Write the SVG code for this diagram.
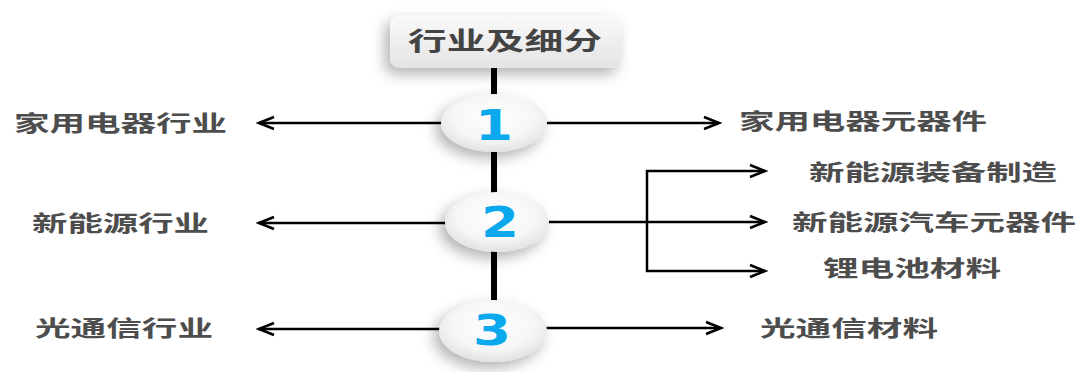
<svg xmlns="http://www.w3.org/2000/svg" width="1078" height="372" viewBox="0 0 1078 372">
<style>
.lbl{font-family:"Noto Sans CJK SC","Noto Sans",sans-serif;font-weight:bold;font-size:22px;fill:#4d4d4d}
.ttl{font-family:"Noto Sans CJK SC","Noto Sans",sans-serif;font-weight:bold;font-size:25px;fill:#444}
.num{font-family:"DejaVu Sans",sans-serif;font-weight:bold;font-size:42px;fill:#0aa8ec;text-anchor:middle}
.ln{stroke:#000;stroke-width:2.5;fill:none}
.oval{fill:url(#og);filter:url(#sh)}
</style>
<defs>
<marker id="ah" markerUnits="userSpaceOnUse" markerWidth="20" markerHeight="16" refX="17" refY="8" orient="auto-start-reverse">
<path d="M2,2 L17,8 L2,14" fill="none" stroke="#000" stroke-width="2.5"/>
</marker>
<radialGradient id="og" cx="0.5" cy="0.4" r="0.6">
<stop offset="0" stop-color="#ffffff"/>
<stop offset="0.65" stop-color="#f6f6f6"/>
<stop offset="1" stop-color="#e2e2e2"/>
</radialGradient>
<linearGradient id="tg" x1="0" y1="0" x2="0" y2="1">
<stop offset="0" stop-color="#fafafa"/>
<stop offset="1" stop-color="#e4e4e4"/>
</linearGradient>
<filter id="sh" x="-40%" y="-40%" width="180%" height="200%">
<feDropShadow dx="-5" dy="6" stdDeviation="7" flood-color="#000" flood-opacity="0.3"/>
</filter>
</defs>
<g id="connectors">
<line class="ln" x1="494" y1="68" x2="494" y2="315" style="stroke-width:6"/>
<line class="ln" x1="445" y1="123" x2="259" y2="123" marker-end="url(#ah)"/>
<line class="ln" x1="545" y1="123" x2="719" y2="123" marker-end="url(#ah)"/>
<line class="ln" x1="447" y1="223" x2="259" y2="223" marker-end="url(#ah)"/>
<line class="ln" x1="548" y1="222" x2="765" y2="222" marker-end="url(#ah)"/>
<path class="ln" d="M765,171 H647 V271 H765" marker-start="url(#ah)" marker-end="url(#ah)"/>
<line class="ln" x1="440" y1="329" x2="259" y2="329" marker-end="url(#ah)"/>
<line class="ln" x1="545" y1="328" x2="721" y2="328" marker-end="url(#ah)"/>
</g>
<g id="title">
<rect x="390" y="15" width="232" height="53" rx="10" fill="url(#tg)" filter="url(#sh)"/>
<text class="ttl" x="408" y="50" textLength="194" lengthAdjust="spacingAndGlyphs">行业及细分</text>
</g>
<g id="node1">
<ellipse class="oval" cx="494" cy="123" rx="53" ry="29"/>
<text class="num" transform="translate(494,140) scale(1.3,1)">1</text>
</g>
<g id="node2">
<ellipse class="oval" cx="497" cy="222" rx="52" ry="30"/>
<text class="num" transform="translate(500,237) scale(1.3,1)">2</text>
</g>
<g id="node3">
<ellipse class="oval" cx="493" cy="331" rx="54" ry="31"/>
<text class="num" transform="translate(492,345) scale(1.3,1)">3</text>
</g>
<g id="labels">
<text class="lbl" x="14" y="131" textLength="213" lengthAdjust="spacingAndGlyphs">家用电器行业</text>
<text class="lbl" x="739" y="129" textLength="248" lengthAdjust="spacingAndGlyphs">家用电器元器件</text>
<text class="lbl" x="32" y="231" textLength="177" lengthAdjust="spacingAndGlyphs">新能源行业</text>
<text class="lbl" x="809" y="180" textLength="248" lengthAdjust="spacingAndGlyphs">新能源装备制造</text>
<text class="lbl" x="792" y="230" textLength="284" lengthAdjust="spacingAndGlyphs">新能源汽车元器件</text>
<text class="lbl" x="823" y="276" textLength="178" lengthAdjust="spacingAndGlyphs">锂电池材料</text>
<text class="lbl" x="35" y="336" textLength="178" lengthAdjust="spacingAndGlyphs">光通信行业</text>
<text class="lbl" x="760" y="336" textLength="178" lengthAdjust="spacingAndGlyphs">光通信材料</text>
</g>
</svg>
